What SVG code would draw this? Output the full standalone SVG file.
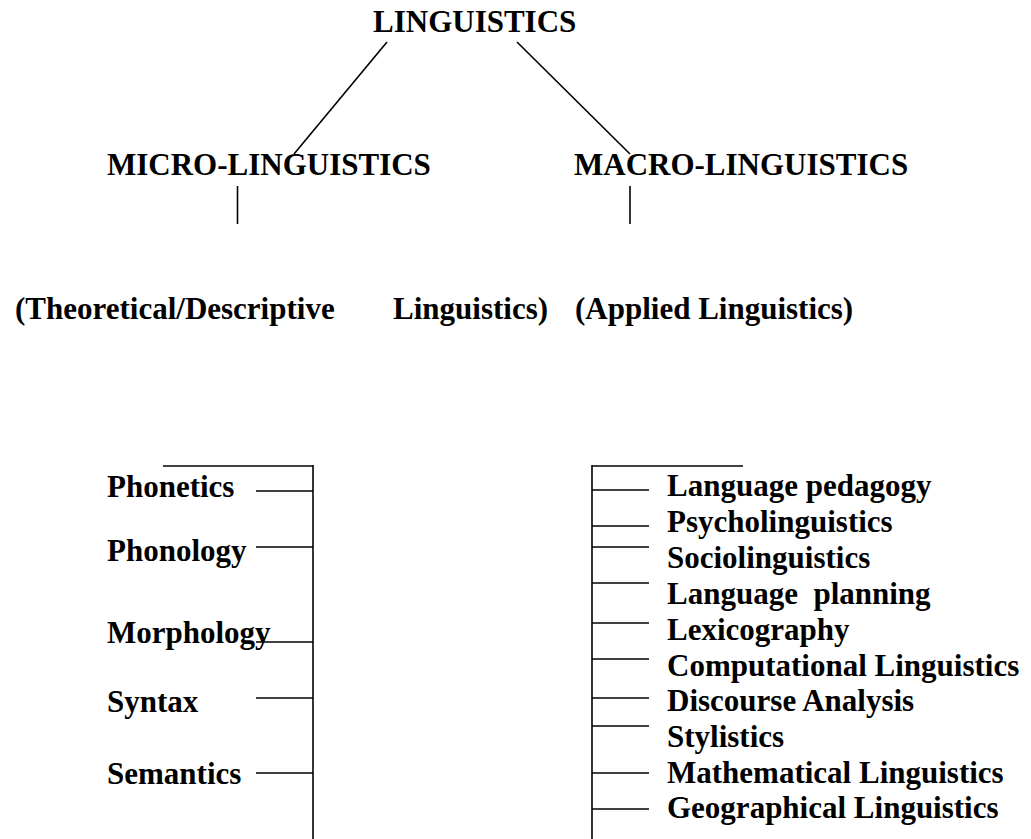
<svg xmlns="http://www.w3.org/2000/svg" width="1031" height="839" viewBox="0 0 1031 839">
<style>
text{font-family:"Liberation Serif","Times New Roman",serif;font-weight:bold;font-size:31px;fill:#000}
line{stroke:#000;stroke-width:1.6;fill:none}
</style>
<rect width="1031" height="839" fill="#fff"/>
<g id="connectors">
<line x1="387" y1="42" x2="294" y2="154"/>
<line x1="517" y1="42" x2="630" y2="154"/>
<line x1="237.5" y1="186" x2="237.5" y2="224"/>
<line x1="630" y1="186" x2="630" y2="224"/>
<line x1="163" y1="466" x2="313" y2="466"/>
<line x1="313" y1="465" x2="313" y2="839"/>
<line x1="256" y1="491" x2="313" y2="491"/>
<line x1="256" y1="547" x2="313" y2="547"/>
<line x1="256" y1="642" x2="313" y2="642"/>
<line x1="256" y1="698" x2="313" y2="698"/>
<line x1="256" y1="773" x2="313" y2="773"/>
<line x1="592" y1="466" x2="743" y2="466"/>
<line x1="592" y1="465" x2="592" y2="839"/>
<line x1="592" y1="490" x2="649" y2="490"/>
<line x1="592" y1="526" x2="649" y2="526"/>
<line x1="592" y1="547" x2="649" y2="547"/>
<line x1="592" y1="583" x2="649" y2="583"/>
<line x1="592" y1="623" x2="649" y2="623"/>
<line x1="592" y1="659" x2="649" y2="659"/>
<line x1="592" y1="698" x2="649" y2="698"/>
<line x1="592" y1="726" x2="649" y2="726"/>
<line x1="592" y1="773" x2="649" y2="773"/>
<line x1="592" y1="809" x2="649" y2="809"/>
</g>
<g id="linguistics"><text x="373" y="32">LINGUISTICS</text></g>
<g id="micro"><text x="107" y="175">MICRO-LINGUISTICS</text></g>
<g id="macro"><text x="574" y="175">MACRO-LINGUISTICS</text></g>
<g id="theoretical"><text x="15" y="319">(Theoretical/Descriptive</text><text x="393" y="319">Linguistics)</text></g>
<g id="applied"><text x="575" y="319">(Applied Linguistics)</text></g>
<g id="phonetics"><text x="107" y="497">Phonetics</text></g>
<g id="phonology"><text x="107" y="561">Phonology</text></g>
<g id="morphology"><text x="107" y="643">Morphology</text></g>
<g id="syntax"><text x="107" y="712">Syntax</text></g>
<g id="semantics"><text x="107" y="784">Semantics</text></g>
<g id="pedagogy"><text x="667" y="496">Language pedagogy</text></g>
<g id="psycho"><text x="667" y="532">Psycholinguistics</text></g>
<g id="socio"><text x="667" y="568">Sociolinguistics</text></g>
<g id="planning"><text x="667" y="604" xml:space="preserve">Language  planning</text></g>
<g id="lexico"><text x="667" y="640">Lexicography</text></g>
<g id="computational"><text x="667" y="676">Computational Linguistics</text></g>
<g id="discourse"><text x="667" y="711">Discourse Analysis</text></g>
<g id="stylistics"><text x="667" y="747">Stylistics</text></g>
<g id="mathematical"><text x="667" y="783">Mathematical Linguistics</text></g>
<g id="geographical"><text x="667" y="818">Geographical Linguistics</text></g>
</svg>
